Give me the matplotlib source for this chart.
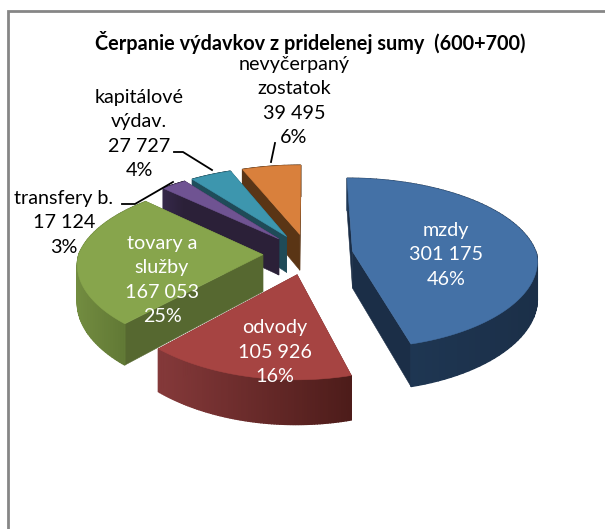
import matplotlib

matplotlib.use("Agg")
import matplotlib.pyplot as plt
import numpy as np
from matplotlib.patches import Polygon

plt.rcParams["font.family"] = ["Lato", "DejaVu Sans"]

# Data
categories = ["mzdy", "odvody", "tovary a\nslužby", "transfery b.",
              "kapitálové\nvýdav.", "nevyčerpaný\nzostatok"]
values = [301175, 105926, 167053, 17124, 27727, 39495]
value_labels = ["301 175", "105 926", "167 053", "17 124", "27 727", "39 495"]
percents = ["46%", "16%", "25%", "3%", "4%", "6%"]

top_colors = ["#4471a6", "#a64442", "#87a54c", "#6f5392", "#3d96ae", "#d9803c"]
rim_left = ["#203a58", "#85393a", "#728c40", "#35284a", "#1f4f5c", "#5a3517"]
rim_right = ["#1b2f48", "#4d1c1a", "#5a7030", "#2b2038", "#1f4b58", "#5a3515"]
cut_colors = ["#1b2e47", "#6b2a28", "#566830", "#2b2038", "#1f4b58", "#5a3515"]

# Projection of the tilted pie, in pixels
CX, CY = 308, 254
RX, RY = 184, 84
PERSP = 0.14
PERSP_FRONT_X = 0.10
EXPLODE = 0.245
HEIGHT = 37


def project(gx, gy, z=0.0):
    s = 1 / (1 - PERSP * gy)
    sx = 1 / (1 - np.where(gy > 0, PERSP_FRONT_X, PERSP) * gy)
    return CX + RX * gx * sx, CY + RY * gy * s + HEIGHT * z * s


def ground(theta, ox, oy):
    return ox + np.sin(theta), oy - np.cos(theta)


def draw_slice(ax, i, start, end):
    mid = (start + end) / 2
    ox, oy = EXPLODE * np.sin(mid), -EXPLODE * np.cos(mid)
    th = np.linspace(start, end, 80)
    gx, gy = ground(th, ox, oy)

    # cut faces
    for t in (start, end):
        ex, ey = ground(t, ox, oy)
        quad = [project(ox, oy), project(ex, ey), project(ex, ey, 1), project(ox, oy, 1)]
        ax.add_patch(Polygon(quad, fc=cut_colors[i], ec=cut_colors[i], lw=0.4))

    # rim, shaded from left to right
    left = np.array(matplotlib.colors.to_rgb(rim_left[i]))
    right = np.array(matplotlib.colors.to_rgb(rim_right[i]))
    xs = project(gx, gy)[0]
    span = max(xs.max() - xs.min(), 1)
    for k in range(len(th) - 1):
        f = (xs[k] - xs.min()) / span
        c = left + (right - left) * f
        quad = [project(gx[k], gy[k]), project(gx[k + 1], gy[k + 1]),
                project(gx[k + 1], gy[k + 1], 1), project(gx[k], gy[k], 1)]
        ax.add_patch(Polygon(quad, fc=c, ec=c, lw=1.0))

    # top face
    px, py = project(gx, gy)
    ax0, ay0 = project(ox, oy)
    ax.add_patch(Polygon(np.column_stack([np.r_[ax0, px], np.r_[ay0, py]]),
                         fc=top_colors[i], ec=top_colors[i], lw=0.4))


fig = plt.figure(figsize=(6.05, 5.29), dpi=100)
ax = fig.add_axes([0, 0, 1, 1])
ax.set_xlim(0, 605)
ax.set_ylim(529, 0)
ax.axis("off")

# chart frame, only left and top fall inside the picture
ax.plot([8, 8, 605], [529, 11, 11], color="#868686", lw=2, solid_joinstyle="miter")

edges = np.r_[0, np.cumsum(values)] / np.sum(values) * 2 * np.pi
for i in [5, 4, 3, 2, 1, 0]:
    draw_slice(ax, i, edges[i], edges[i + 1])

ax.text(310, 42, "Čerpanie výdavkov z pridelenej sumy  (600+700)", ha="center", va="center",
        fontsize=14.3, fontweight="bold", color="black")

label_pos = [(446, 255), (275, 352), (162, 280), (64, 223), (139, 134), (294, 101)]
label_col = ["white", "white", "white", "black", "black", "black"]
for i, (x, y) in enumerate(label_pos):
    txt = f"{categories[i]}\n{value_labels[i]}\n{percents[i]}"
    ax.text(x, y, txt, ha="center", va="center", fontsize=14.2, color=label_col[i],
            linespacing=1.52)

# leader lines
ax.plot([275, 271], [143, 162], color="black", lw=1.3)
ax.plot([174, 183, 212], [152, 152, 170], color="black", lw=1.3)
ax.plot([122, 135, 173], [204, 204, 182], color="black", lw=1.3)

fig.savefig("out.png", dpi=100)
